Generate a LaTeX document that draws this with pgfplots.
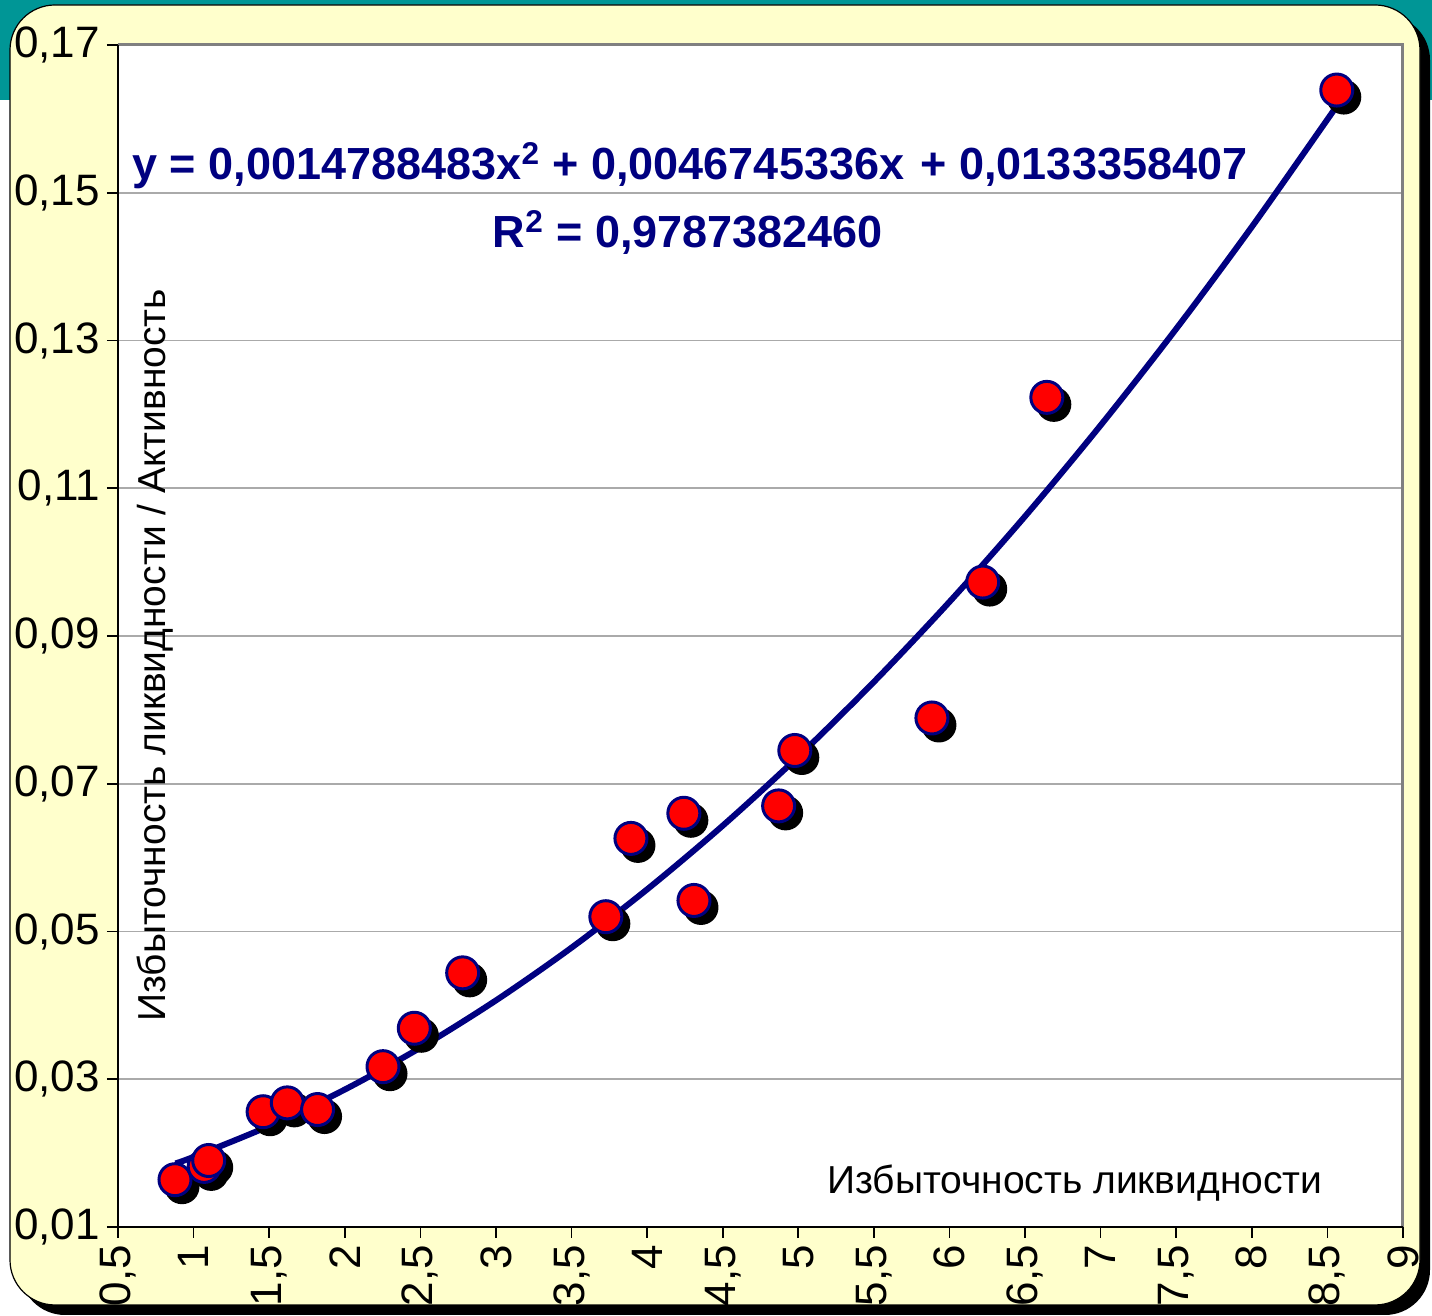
\documentclass[border=0pt]{standalone}
\usepackage{fontspec}
\setmainfont{Liberation Sans}
\usepackage{pgfplots}
\pgfplotsset{compat=1.18}
\definecolor{slideteal}{RGB}{0,150,150}
\definecolor{cream}{RGB}{255,255,204}
\definecolor{navyline}{RGB}{0,0,128}
\definecolor{gridgray}{RGB}{170,170,170}
\begin{document}
\begin{tikzpicture}
\useasboundingbox (0,0) rectangle (716pt,658pt);
% slide background
\fill[slideteal] (0,608pt) rectangle (716pt,658pt);
\fill[black, rounded corners=22.5pt] (10pt,0.5pt) rectangle (715pt,650.5pt);
\filldraw[fill=cream, draw=black, line width=0.6pt, rounded corners=22.5pt] (5pt,5.5pt) rectangle (710pt,655.5pt);
\begin{axis}[
    at={(59pt,44.5pt)}, anchor=south west,
    scale only axis, width=642.5pt, height=591pt,
    xmin=0.5, xmax=9, ymin=0.01, ymax=0.17,
    xtick={0.5,1,1.5,2,2.5,3,3.5,4,4.5,5,5.5,6,6.5,7,7.5,8,8.5,9},
    xticklabels={{0,5},1,{1,5},2,{2,5},3,{3,5},4,{4,5},5,{5,5},6,{6,5},7,{7,5},8,{8,5},9},
    ytick={0.01,0.03,0.05,0.07,0.09,0.11,0.13,0.15,0.17},
    yticklabels={{0,01},{0,03},{0,05},{0,07},{0,09},{0,11},{0,13},{0,15},{0,17}},
    xtick pos=bottom, ytick pos=left,
    tick align=outside, major tick length=5.5pt,
    tick style={black, line width=0.8pt},
    axis line style={draw=none},
    axis background/.style={fill=white},
    ymajorgrids, grid style={gridgray, line width=0.8pt},
    clip=false,
    tick label style={font=\fontsize{22}{22}\selectfont},
    xticklabel style={rotate=90, anchor=east},
    scaled y ticks=false,
]
% frame
\draw[gray, line width=1.5pt] (rel axis cs:0,1) -- (rel axis cs:1,1) -- (rel axis cs:1,0);
\draw[black, line width=1pt] (rel axis cs:0,1) -- (rel axis cs:0,0) -- (rel axis cs:1,0);

% shadows of markers
\addplot[only marks, mark=*, mark size=8pt,
    mark options={fill=black, draw=black, line width=1.5pt, xshift=3.5pt, yshift=-3.5pt}]
    coordinates {
    (0.877,0.0164)(1.07,0.0182)(1.10,0.0190)(1.46,0.0256)(1.62,0.0268)(1.82,0.0259)
    (2.253,0.0317)(2.46,0.0369)(2.78,0.0444)(3.727,0.0520)(3.893,0.0626)(4.243,0.0660)
    (4.31,0.0542)(4.87,0.0670)(4.977,0.0745)(5.884,0.0789)(6.22,0.0973)(6.644,0.1223)
    (8.562,0.1639)
    };
% data markers
\addplot[only marks, mark=*, mark size=8pt,
    mark options={fill=red, draw=navyline, line width=1.5pt}]
    coordinates {
    (0.877,0.0164)(1.07,0.0182)(1.10,0.0190)(1.46,0.0256)(1.62,0.0268)(1.82,0.0259)
    (2.253,0.0317)(2.46,0.0369)(2.78,0.0444)(3.727,0.0520)(3.893,0.0626)(4.243,0.0660)
    (4.31,0.0542)(4.87,0.0670)(4.977,0.0745)(5.884,0.0789)(6.22,0.0973)(6.644,0.1223)
    (8.562,0.1639)
    };
% polynomial trend line
\addplot[navyline, line width=3pt, smooth, no marks]
    coordinates {
    (0.88,0.01860)(1.0,0.01949)(1.5,0.02368)(2.0,0.02860)(2.5,0.03427)(3.0,0.04067)
    (3.5,0.04781)(4.0,0.05570)(4.5,0.06432)(5.0,0.07368)(5.5,0.08378)(6.0,0.09462)
    (6.5,0.10620)(7.0,0.11852)(7.5,0.13158)(8.0,0.14538)(8.5,0.15992)(8.58,0.16231)
    };

\node[text=navyline, font=\fontsize{22.5}{22.5}\selectfont\bfseries] at (axis cs:4.283,0.1537)
    {y = 0,0014788483x\textsuperscript{2} + 0,0046745336x \hspace{2pt}+ 0,0133358407};
\node[text=navyline, font=\fontsize{22.5}{22.5}\selectfont\bfseries] at (axis cs:4.27,0.14464)
    {R\textsuperscript{2} = 0,9787382460};
\node[rotate=90, font=\fontsize{19.5}{19.5}\selectfont] at (axis cs:0.745,0.0874)
    {Избыточность ликвидности / Активность};
\node[font=\fontsize{19.5}{19.5}\selectfont] at (axis cs:6.83,0.01595)
    {Избыточность ликвидности};
\end{axis}
\end{tikzpicture}
\end{document}
